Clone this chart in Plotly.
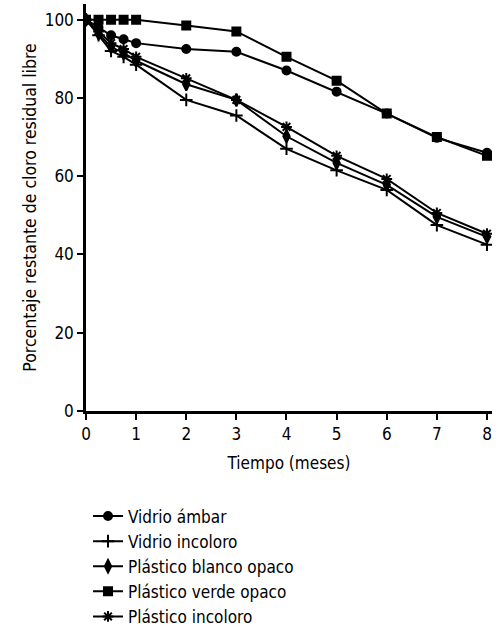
import plotly.graph_objects as go

meses = [0, 0.25, 0.5, 0.75, 1, 2, 3, 4, 5, 6, 7, 8]

vidrio_ambar = [100, 98, 96, 95, 94, 92.5, 91.8, 87, 81.6, 76, 69.8, 66]
vidrio_incoloro = [100, 96, 92, 90.5, 88.5, 79.5, 75.5, 67, 61.5, 56.5, 47.5, 42.5]
plastico_blanco = [100, 96.5, 93, 91.5, 89.5, 83.5, 79.5, 70.2, 63.4, 57.8, 49.6, 44.5]
plastico_verde = [100, 100, 100, 100, 100, 98.5, 97, 90.5, 84.4, 76, 70, 65.2]
plastico_incoloro = [100, 97, 94, 92.5, 90.5, 85, 79.5, 72.6, 65.2, 59.3, 50.6, 45.3]

series = [
    ("Vidrio ámbar", vidrio_ambar, "circle", 8),
    ("Vidrio incoloro", vidrio_incoloro, "cross-thin-open", 9),
    ("Plástico blanco opaco", plastico_blanco, "diamond-tall", 9),
    ("Plástico verde opaco", plastico_verde, "square", 8),
    ("Plástico incoloro", plastico_incoloro, "asterisk-open", 9),
]

font = "DejaVu Sans Condensed, Liberation Sans, sans-serif"

fig = go.Figure()
for name, vals, sym, size in series:
    fig.add_trace(go.Scatter(
        x=meses, y=vals, name=name, mode="lines+markers",
        line=dict(color="black", width=2),
        marker=dict(symbol=sym, size=size, color="black",
                    line=dict(color="black", width=2)),
    ))

fig.update_layout(
    width=501, height=639,
    margin=dict(l=86, r=9, t=4, b=228),
    paper_bgcolor="white", plot_bgcolor="white",
    font=dict(family=font, size=17, color="black"),
    showlegend=True,
    legend=dict(x=0.005, y=-0.215, xanchor="left", yanchor="top",
                orientation="v", font=dict(size=17, family=font),
                tracegroupgap=0, itemwidth=30, bgcolor="rgba(0,0,0,0)"),
    xaxis=dict(range=[0, 8.1], tickvals=[0, 1, 2, 3, 4, 5, 6, 7, 8],
               showline=True, linecolor="black", linewidth=2.5,
               ticks="outside", ticklen=6, tickwidth=2, tickcolor="black",
               showgrid=False, zeroline=False, tickfont=dict(size=17),
               title=dict(text="Tiempo (meses)", font=dict(size=17), standoff=14)),
    yaxis=dict(range=[0, 104], tickvals=[0, 20, 40, 60, 80, 100],
               showline=True, linecolor="black", linewidth=2.5,
               ticks="outside", ticklen=6, tickwidth=2, tickcolor="black",
               showgrid=False, zeroline=False, tickfont=dict(size=17),
               title=dict(text="Porcentaje restante de cloro residual libre",
                          font=dict(size=17.5), standoff=4)),
)

fig.write_html("out.html")
